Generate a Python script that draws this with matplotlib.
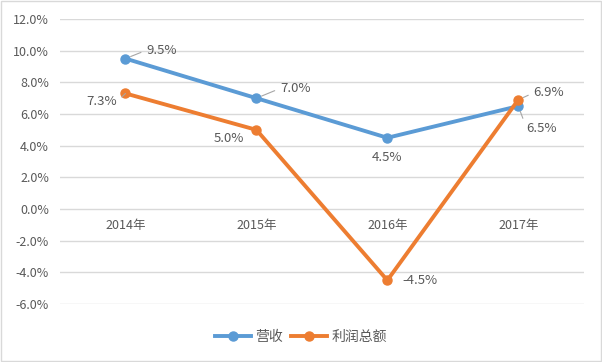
import matplotlib.pyplot as plt
from matplotlib.ticker import FuncFormatter

plt.rcParams['font.family'] = ['Noto Sans CJK SC', 'DejaVu Sans']

years = ["2014年", "2015年", "2016年", "2017年"]
revenue = [9.5, 7.0, 4.5, 6.5]
profit = [7.3, 5.0, -4.5, 6.9]

blue = "#5B9BD5"
orange = "#ED7D31"
txt = "#595959"

fig = plt.figure(figsize=(6.02, 3.62), dpi=100)
ax = fig.add_axes([0.0997, 0.160, 0.870, 0.7875])
fig.patches.append(plt.Rectangle((0.002, 0.003), 0.996, 0.994, transform=fig.transFigure,
                                 fill=False, edgecolor="#D9D9D9", linewidth=1))

x = list(range(len(years)))
ax.plot(x, revenue, color=blue, lw=2.8, marker="o", ms=6.5, label="营收", zorder=3)
ax.plot(x, profit, color=orange, lw=2.8, marker="o", ms=6.5, label="利润总额", zorder=4)

ax.set_xlim(-0.5, 3.5)
ax.set_ylim(-6, 12)
ax.set_yticks(range(-6, 13, 2))
ax.yaxis.set_major_formatter(FuncFormatter(lambda v, p: "%.1f%%" % v))
ax.tick_params(axis="y", length=0, labelsize=9, labelcolor=txt, pad=8)
ax.set_xticks([])
ax.grid(axis="y", color="#D9D9D9", lw=1)
ax.set_axisbelow(True)
for s in ax.spines.values():
    s.set_visible(False)

for i, y in enumerate(years):
    ax.annotate(y, (i, 0), xytext=(0, -12), textcoords="offset points",
                ha="center", va="center", fontsize=9, color=txt)

# data labels, offset in points; leader lines like excel
def label(i, v, dx, dy, leader):
    ha = "left" if dx > 3 else ("right" if dx < -3 else "center")
    ap = None
    if leader:
        ap = dict(arrowstyle="-", color="#A6A6A6", lw=0.8, shrinkA=2, shrinkB=4,
                  relpos=(0, 0.5) if ha == "left" else (1, 0.5))
    ax.annotate("%.1f%%" % v, (i, v), xytext=(dx, dy), textcoords="offset points",
                ha=ha, va="center", fontsize=9.5, color=txt, zorder=5, arrowprops=ap)

label(0, revenue[0], 15, 6, True)
label(1, revenue[1], 17, 7, True)
label(2, revenue[2], 0, -14, False)
label(3, revenue[3], 6, -16, True)
label(0, profit[0], -6, -6, True)
label(1, profit[1], -9, -6, False)
label(2, profit[2], 11, 0, False)
label(3, profit[3], 11, 5, True)

fig.legend(loc="lower center", bbox_to_anchor=(0.5, 0.015), ncol=2, frameon=False,
           fontsize=10, labelcolor=txt, handlelength=2.6, columnspacing=0.6,
           handletextpad=0.3)

fig.savefig("out.png", dpi=100)
